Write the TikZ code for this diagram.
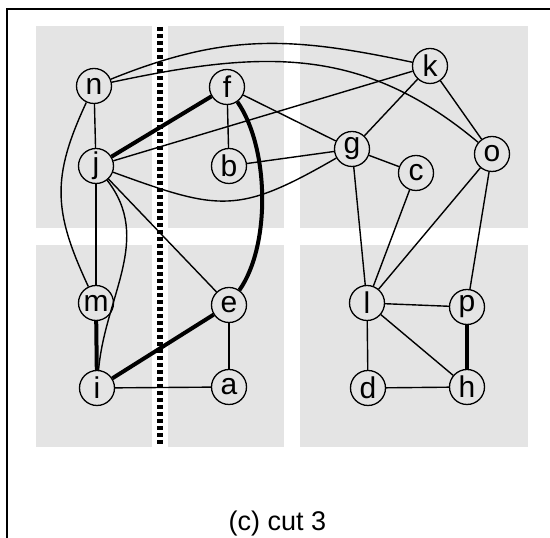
\documentclass[tikz,border=0pt]{standalone}
\usepackage{fontspec}
\setmainfont{Liberation Sans}
\definecolor{panel}{HTML}{E4E4E4}
\newcommand{\vtxfont}{\fontsize{30}{30}\selectfont}
\tikzset{
  vtx/.style={circle, draw=black, line width=1.3pt, minimum size=35pt, inner sep=0pt,
              font=\vtxfont},
  edg/.style={line width=1.4pt},
  cutedge/.style={line width=4pt},
  panelbox/.style={fill=panel, draw=none},
  cutline/.style={line width=6pt, dash pattern=on 4pt off 3pt},
}
\begin{document}
\begin{tikzpicture}[x=1pt,y=1pt]
\useasboundingbox (0,0) rectangle (550,538);
% frame
\draw[line width=2.5pt] (7,0) -- (7,529) -- (550,529);
% panels
\fill[panelbox] (36,310) rectangle (152,512);
\fill[panelbox] (168,310) rectangle (284,512);
\fill[panelbox] (300,310) rectangle (528,512);
\fill[panelbox] (36,91) rectangle (152,293);
\fill[panelbox] (168,91) rectangle (284,293);
\fill[panelbox] (300,91) rectangle (528,293);
% cut
\draw[cutline] (159.5,511) -- (159.5,93);
% nodes
\node[vtx] (n) at (94,452) {n};
\node[vtx] (f) at (227,451) {f};
\node[vtx] (j) at (96,372) {j};
\node[vtx] (b) at (229,372) {b};
\node[vtx] (k) at (430,472) {k};
\node[vtx] (g) at (352,389) {g};
\node[vtx] (c) at (416,365) {c};
\node[vtx] (o) at (492,384) {o};
\node[vtx] (m) at (96,235) {m};
\node[vtx] (e) at (229,233) {e};
\node[vtx] (l) at (367,235) {l};
\node[vtx] (p) at (467,231) {p};
\node[vtx] (i) at (97,150) {i};
\node[vtx] (a) at (229,151) {a};
\node[vtx] (d) at (368,150) {d};
\node[vtx] (h) at (467,151) {h};
% edges
\draw[edg] (n) -- (j);
\draw[edg] (n) to[out=-115,in=115,looseness=1.15] (m);
\draw[edg] (n) to[out=22,in=168,looseness=1.05] (k);
\draw[edg] (n) to[out=12,in=140,looseness=1.05] (o);
\draw[edg] (j) -- (k);
\draw[edg] (j) to[out=-20,in=-150,looseness=1.3] (g);
\draw[edg] (j) -- (m);
\draw[edg] (j) to[out=-52,in=85,looseness=1.0] (i);
\draw[edg] (j) -- (e);
\draw[edg] (f) -- (b);
\draw[edg] (f) -- (g);
\draw[edg] (b) -- (g);
\draw[edg] (k) -- (g);
\draw[edg] (k) -- (o);
\draw[edg] (g) -- (c);
\draw[edg] (g) -- (l);
\draw[edg] (c) -- (l);
\draw[edg] (o) -- (l);
\draw[edg] (o) -- (p);
\draw[edg] (l) -- (p);
\draw[edg] (l) -- (d);
\draw[edg] (l) -- (h);
\draw[edg] (d) -- (h);
\draw[edg] (i) -- (a);
\draw[edg] (e) -- (a);
\draw[cutedge] (j) -- (f);
\draw[cutedge] (f) to[out=-55,in=55,looseness=0.75] (e);
\draw[cutedge] (m) -- (i);
\draw[cutedge] (i) -- (e);
\draw[cutedge] (p) -- (h);
% caption
\node[anchor=base, font=\fontsize{27}{27}\selectfont, inner sep=0pt] (cap) at (277.5,7) {(c) cut 3};
\end{tikzpicture}
\end{document}
